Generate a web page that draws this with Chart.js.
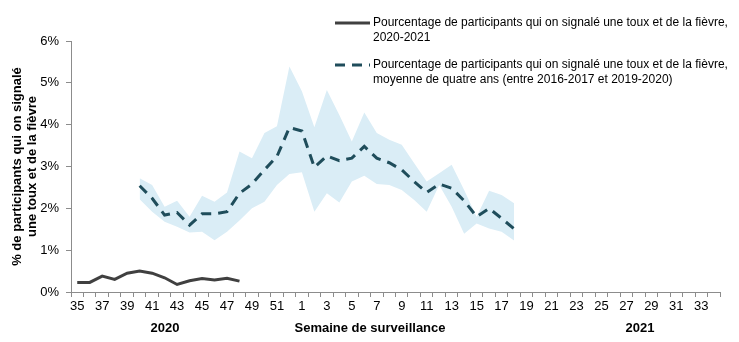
<!DOCTYPE html>
<html lang="fr">
<head>
<meta charset="utf-8">
<script src="https://cdn.jsdelivr.net/npm/chart.js@4.4.1/dist/chart.umd.min.js"></script>
<style>
  html, body { margin: 0; padding: 0; background: #fff; }
  #wrap { position: relative; width: 739px; height: 342px; }
</style>
</head>
<body>
<div id="wrap"><canvas id="chart" width="739" height="342"></canvas></div>
<script>
// semaines de surveillance : 35 à 52 (2020), puis 1 à 34 (2021)
const weeks = ['35','36','37','38','39','40','41','42','43','44','45','46','47','48','49','50','51','52',
  '1','2','3','4','5','6','7','8','9','10','11','12','13','14','15','16','17','18','19','20',
  '21','22','23','24','25','26','27','28','29','30','31','32','33','34'];

// 2020-2021, semaines 35 à 48
const current = [0.23, 0.23, 0.38, 0.30, 0.45, 0.50, 0.45, 0.34, 0.18, 0.27, 0.32, 0.29, 0.33, 0.26];

// moyenne de quatre ans, semaines 40 à 18
const avgStart = 5; // index de la semaine 40
const average = [2.54, 2.24, 1.84, 1.90, 1.60, 1.87, 1.87, 1.92, 2.36, 2.58, 2.92, 3.24, 3.93,
  3.85, 2.98, 3.25, 3.14, 3.20, 3.48, 3.20, 3.09, 2.92, 2.64, 2.38, 2.58, 2.48, 2.18, 1.80, 2.00, 1.76, 1.51];
const upper = [2.72, 2.56, 2.04, 2.18, 1.80, 2.30, 2.16, 2.38, 3.36, 3.20, 3.80, 3.96, 5.39,
  4.80, 3.94, 4.83, 4.23, 3.60, 4.29, 3.80, 3.64, 3.52, 3.08, 2.64, 2.84, 3.04, 2.44, 1.80, 2.42, 2.32, 2.12];
const lower = [2.22, 1.92, 1.68, 1.56, 1.42, 1.44, 1.24, 1.44, 1.71, 2.00, 2.16, 2.56, 2.82,
  2.86, 1.92, 2.36, 2.14, 2.64, 2.78, 2.58, 2.56, 2.44, 2.20, 1.92, 2.56, 2.04, 1.39, 1.64, 1.52, 1.44, 1.23];

const yTicks = [0, 1, 2, 3, 4, 5, 6];

const LINE_DARK = '#404040';
const LINE_TEAL = '#1f4d5b';
const BAND = '#daedf6';
const AXIS = '#8c8c8c';
const FONT = "'Liberation Sans', Arial, sans-serif";

// place une série sur l'axe complet (null ailleurs)
function pad(values, start) {
  const out = weeks.map(() => null);
  values.forEach((v, i) => { out[start + i] = v; });
  return out;
}

/* =========================
   TEXTES (titres + légende)
========================= */
const extraText = {
  id: 'extraText',
  afterDraw(chart) {
    const { ctx, chartArea } = chart;
    ctx.save();
    ctx.fillStyle = '#000';

    // titre axe Y, deux lignes
    ctx.font = `bold 13px ${FONT}`;
    ctx.textAlign = 'center';
    ctx.textBaseline = 'middle';
    const cy = (chartArea.top + chartArea.bottom) / 2;
    ctx.translate(17, cy);
    ctx.rotate(-Math.PI / 2);
    ctx.fillText('% de participants qui on signalé', 0, 0);
    ctx.fillText('une toux et de la fièvre', 0, 15);
    ctx.setTransform(1, 0, 0, 1, 0, 0);

    // titres axe X
    ctx.font = `bold 13px ${FONT}`;
    ctx.fillText('2020', 165, 328);
    ctx.fillText('Semaine de surveillance', 370, 328);
    ctx.fillText('2021', 640, 328);

    // légende
    ctx.lineWidth = 3;
    ctx.strokeStyle = LINE_DARK;
    ctx.beginPath(); ctx.moveTo(335, 23); ctx.lineTo(370, 23); ctx.stroke();
    ctx.strokeStyle = LINE_TEAL;
    ctx.setLineDash([10, 7]);
    ctx.beginPath(); ctx.moveTo(335, 65); ctx.lineTo(370, 65); ctx.stroke();
    ctx.setLineDash([]);

    ctx.font = `12px ${FONT}`;
    ctx.textAlign = 'left';
    ctx.fillText('Pourcentage de participants qui on signalé une toux et de la fièvre,', 373, 23);
    ctx.fillText('2020-2021', 373, 38);
    ctx.fillText('Pourcentage de participants qui on signalé une toux et de la fièvre,', 373, 65);
    ctx.fillText('moyenne de quatre ans (entre 2016-2017 et 2019-2020)', 373, 80);
    ctx.restore();
  }
};

new Chart(document.getElementById('chart'), {
  type: 'line',
  data: {
    labels: weeks,
    datasets: [
      {
        label: '2020-2021',
        data: pad(current, 0),
        borderColor: LINE_DARK,
        borderWidth: 3,
        pointRadius: 0,
        tension: 0,
        fill: false,
      },
      {
        label: 'moyenne',
        data: pad(average, avgStart),
        borderColor: LINE_TEAL,
        borderWidth: 3,
        borderDash: [10, 7],
        pointRadius: 0,
        tension: 0,
        fill: false,
      },
      {
        label: 'max',
        data: pad(upper, avgStart),
        borderWidth: 0,
        borderColor: 'rgba(0,0,0,0)',
        backgroundColor: BAND,
        pointRadius: 0,
        tension: 0,
        fill: '+1',
      },
      {
        label: 'min',
        data: pad(lower, avgStart),
        borderWidth: 0,
        borderColor: 'rgba(0,0,0,0)',
        pointRadius: 0,
        tension: 0,
        fill: false,
      },
    ],
  },
  options: {
    responsive: false,
    animation: false,
    devicePixelRatio: 1,
    layout: { padding: { top: 41, right: 19, left: 0, bottom: 0 } },
    plugins: { legend: { display: false }, tooltip: { enabled: false } },
    scales: {
      x: {
        offset: true,
        grid: {
          offset: true,
          drawOnChartArea: false,
          color: AXIS,
          tickLength: 5,
        },
        border: { color: AXIS, width: 1 },
        ticks: {
          autoSkip: false,
          maxRotation: 0,
          padding: 2,
          color: '#000',
          font: { family: FONT, size: 13 },
          callback: (v, i) => (i % 2 === 0 ? weeks[i] : ''),
        },
        afterFit: (s) => { s.height = 50; },
      },
      y: {
        min: 0,
        max: 6,
        afterBuildTicks: (s) => { s.ticks = yTicks.map(v => ({ value: v })); },
        grid: {
          drawOnChartArea: false,
          color: AXIS,
          tickLength: 5,
        },
        border: { color: AXIS, width: 1 },
        ticks: {
          padding: 7,
          color: '#000',
          font: { family: FONT, size: 13 },
          callback: (v) => v + '%',
        },
        afterFit: (s) => { s.width = 71; },
      },
    },
  },
  plugins: [extraText],
});
</script>
</body>
</html>
